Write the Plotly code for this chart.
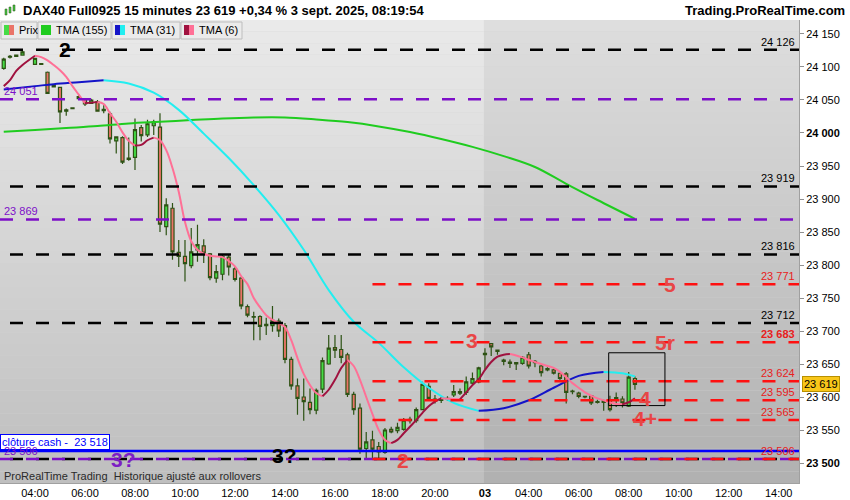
import plotly.graph_objects as go

# 15 minute bars numbered from 04:00 on 2 sept (bar 0); bar 72 = first bar of 3 sept, bar 96 = 08:15
bars = [-5, -4, -3, -2] + list(range(0, 97))

opens = [24098, 24115, 24116, 24118,
         24104, 24105, 24092, 24070, 24069, 24033, 24037, 24052, 24051, 24045,
         24047, 24034, 24029, 23988, 23993, 23960, 23963, 24008, 23997, 24011,
         24009, 23858, 23886, 23819, 23813, 23799, 23823, 23829, 23817, 23780,
         23786, 23812, 23794, 23780, 23737, 23721, 23722, 23708, 23708, 23715,
         23708, 23657, 23617, 23600, 23592, 23580, 23612, 23650, 23675, 23672,
         23664, 23604, 23583, 23522, 23535, 23525, 23516, 23551, 23549, 23551,
         23564, 23564, 23581, 23616, 23594, 23596, 23597, 23603, 23606, 23607,
         23621, 23623, 23664, 23681, 23671, 23656, 23651, 23652, 23651, 23664,
         23654, 23647, 23641, 23641, 23636, 23635, 23608, 23606, 23601, 23602,
         23593, 23594, 23596, 23597, 23597, 23586, 23628]
highs = [24114, 24118, 24119, 24125,
         24114, 24106, 24093, 24074, 24070, 24037, 24039, 24058, 24053, 24052,
         24050, 24042, 24032, 23995, 23995, 23993, 24022, 24012, 24020, 24020,
         24030, 23901, 23894, 23838, 23838, 23856, 23861, 23839, 23818, 23800,
         23815, 23815, 23797, 23782, 23740, 23729, 23724, 23720, 23738, 23719,
         23712, 23661, 23628, 23628, 23613, 23613, 23660, 23694, 23694, 23694,
         23667, 23608, 23590, 23547, 23549, 23532, 23553, 23555, 23561, 23568,
         23570, 23584, 23623, 23621, 23603, 23600, 23601, 23618, 23613, 23631,
         23637, 23646, 23674, 23682, 23672, 23658, 23657, 23653, 23662, 23668,
         23656, 23649, 23645, 23643, 23638, 23638, 23611, 23608, 23602, 23603,
         23596, 23596, 23602, 23607, 23601, 23638, 23631]
lows = [24096, 24113, 24115, 24117,
        24103, 24103, 24059, 24069, 24015, 24026, 24036, 24050, 24041, 24044,
        24032, 24030, 23984, 23969, 23953, 23958, 23944, 23987, 23994, 23997,
        23850, 23845, 23808, 23797, 23775, 23795, 23805, 23803, 23777, 23773,
        23777, 23784, 23775, 23733, 23721, 23686, 23686, 23694, 23699, 23691,
        23651, 23611, 23573, 23564, 23574, 23574, 23606, 23649, 23659, 23651,
        23600, 23573, 23514, 23506, 23506, 23506, 23514, 23545, 23545, 23549,
        23560, 23561, 23580, 23596, 23590, 23591, 23594, 23600, 23603, 23603,
        23618, 23621, 23642, 23662, 23664, 23648, 23644, 23641, 23649, 23643,
        23645, 23631, 23639, 23634, 23625, 23590, 23604, 23598, 23598, 23588,
        23590, 23579, 23578, 23585, 23584, 23585, 23611]
closes = [24112, 24116, 24118, 24123,
          24113, 24104, 24060, 24073, 24032, 24035, 24038, 24055, 24044, 24050,
          24033, 24036, 23991, 23994, 23956, 23962, 24005, 23996, 24014, 24017,
          23862, 23891, 23820, 23813, 23802, 23820, 23831, 23818, 23781, 23790,
          23813, 23797, 23778, 23738, 23724, 23722, 23707, 23710, 23716, 23700,
          23657, 23617, 23598, 23593, 23581, 23610, 23655, 23674, 23671, 23660,
          23604, 23581, 23521, 23532, 23521, 23517, 23550, 23547, 23554, 23565,
          23566, 23581, 23619, 23598, 23597, 23595, 23598, 23608, 23608, 23623,
          23628, 23644, 23666, 23676, 23669, 23654, 23653, 23650, 23660, 23647,
          23652, 23637, 23643, 23636, 23628, 23607, 23609, 23601, 23600, 23591,
          23592, 23592, 23581, 23599, 23591, 23630, 23619]

# TMA (6) on every bar
tma6 = [24071, 24080, 24094, 24103,
        24117, 24115, 24110, 24103, 24095, 24085, 24071, 24058, 24045, 24046,
        24047, 24044, 24030, 24017, 24001, 23988, 23981, 23982, 23989, 23993,
        23989, 23974, 23947, 23911, 23865, 23836, 23823, 23817, 23814, 23813,
        23812, 23806, 23798, 23783, 23771, 23750, 23736, 23724, 23717, 23712,
        23706, 23686, 23659, 23635, 23618, 23606, 23601, 23611, 23626, 23644,
        23656, 23647, 23626, 23600, 23574, 23550, 23535, 23530, 23535, 23545,
        23555, 23565, 23576, 23586, 23593, 23598, 23597.5, 23597, 23596.5, 23607,
        23618, 23627, 23641, 23653, 23661, 23664, 23665, 23663, 23660, 23656,
        23653, 23650, 23647, 23644, 23638, 23630, 23621, 23614, 23607, 23602,
        23598, 23595, 23592, 23589.5, 23589, 23592, 23598]

# TMA (31) and TMA (155), read every few bars
tma31_bars = [-5, 0, 3, 7, 11, 15, 19, 23, 27, 31, 35, 39, 43, 47, 51, 55, 59, 63, 67, 71, 75, 79, 83, 87, 91, 94, 96]
tma31 = [24066, 24071, 24074, 24077, 24080, 24075, 24061, 24035, 23999, 23962, 23921, 23876, 23823, 23762,
         23714, 23682, 23645, 23614, 23591, 23579, 23583, 23595, 23614, 23632, 23638, 23636, 23631]
tma155_bars = [-5, 0, 5, 10, 15, 20, 25, 30, 35, 40, 45, 50, 55, 60, 65, 70, 75, 80, 85, 90, 96]
tma155 = [24002, 24004.5, 24007.5, 24010.5, 24014.5, 24017, 24019.5, 24022, 24023.5, 24023.5, 24020.5,
          24016.5, 24010, 24001.5, 23991, 23979, 23965, 23948.5, 23923, 23898.5, 23870]

# horizontal levels
black_levels = [24126, 23919, 23816, 23712, 23506]
purple_levels = [24051, 23869, 23506]
red_levels = [23771, 23683, 23624, 23595, 23565, 23506]
red_start_bar = 54
cash_close = 23518
last_price = 23619
box_bars = [91.8, 100.8]
box_prices = [23587, 23667]

# time axis
tick_bars = [0, 8, 16, 24, 32, 40, 48, 56, 64, 72, 79, 87, 95, 103, 111, 119]
tick_text = ["04:00", "06:00", "08:00", "10:00", "12:00", "14:00", "16:00", "18:00", "20:00",
             "<b>03</b>", "04:00", "06:00", "08:00", "10:00", "12:00", "14:00"]
price_ticks = list(range(23500, 24151, 50))

# hand drawn marks on the chart: text, bar, price, colour
marks = [("2", 4.8, 24126, "black"), ("3?", 14.1, 23506, "#7d1fc4"), ("3?", 40, 23512, "black"),
         ("2", 58.9, 23504, "#e84646"), ("3", 69.9, 23686, "#e84646"), ("5", 101.6, 23771, "#e84646"),
         ("5r", 100.8, 23683, "#e84646"), ("4", 97.6, 23597, "#e84646"), ("4+", 97.6, 23568, "#e84646")]

FONT = "Liberation Sans, Arial, sans-serif"
W, H = 850, 500
L, R, T, B = 0, 51, 20, 17
PW, PH = W - L - R, H - T - B
x_range = [-5.6, 122.25]
day2_start = 71.84


def fmt(v):
    return f"{v:,}".replace(",", " ")


def px(x):
    return x / PW


def py(y):
    return 1 - (y - T) / PH


def split_by_slope(xs, ys):
    segs = []
    for i in range(len(xs) - 1):
        up = ys[i + 1] >= ys[i]
        if segs and segs[-1][0] == up:
            segs[-1][1].append(xs[i + 1])
            segs[-1][2].append(ys[i + 1])
        else:
            segs.append([up, [xs[i], xs[i + 1]], [ys[i], ys[i + 1]]])
    return segs


fig = go.Figure()

fig.add_trace(go.Candlestick(
    x=bars, open=opens, high=highs, low=lows, close=closes,
    increasing=dict(line=dict(color="#2d5214", width=1.2), fillcolor="#46dc46"),
    decreasing=dict(line=dict(color="#2d5214", width=1.2), fillcolor="#ea7468"),
    whiskerwidth=0, hoverinfo="skip"))

fig.add_trace(go.Scatter(x=tma155_bars, y=tma155, mode="lines", line=dict(color="#1fcc1f", width=2, shape="spline"),
                         hoverinfo="skip"))

for up, xs, ys in split_by_slope(tma31_bars, tma31):
    fig.add_trace(go.Scatter(x=xs, y=ys, mode="lines", hoverinfo="skip",
                             line=dict(color="#1414c8" if up else "#22eef0", width=2, shape="spline")))

for up, xs, ys in split_by_slope(bars, tma6):
    fig.add_trace(go.Scatter(x=xs, y=ys, mode="lines", hoverinfo="skip",
                             line=dict(color="#a0123f" if up else "#ff7096", width=2, shape="spline")))

shapes = []
# background gradient, darker for the 3 sept session
n = 40
for k in range(n):
    t = k / n
    y0, y1 = 1 - (k + 1) / n, 1 - k / n
    cl = int(234 - 44 * t)
    cr = int(222 - 46 * t)
    shapes.append(dict(type="rect", xref="x", yref="paper", x0=x_range[0], x1=day2_start, y0=y0, y1=y1,
                       fillcolor=f"rgb({cl},{cl},{cl})", line=dict(width=0), layer="below"))
    shapes.append(dict(type="rect", xref="x", yref="paper", x0=day2_start, x1=x_range[1] + 1, y0=y0, y1=y1,
                       fillcolor=f"rgb({cr},{cr},{cr})", line=dict(width=0), layer="below"))

for v in black_levels:
    shapes.append(dict(type="line", xref="paper", yref="y", x0=px(10), x1=1, y0=v, y1=v,
                       line=dict(color="black", width=2.5, dash="13px,13px")))
for v in purple_levels:
    shapes.append(dict(type="line", xref="paper", yref="y", x0=0, x1=1, y0=v, y1=v,
                       line=dict(color="#7d0fc8", width=2.5, dash="13px,13px")))
for v in red_levels:
    shapes.append(dict(type="line", xref="x", yref="y", x0=red_start_bar, x1=x_range[1] + 2, y0=v, y1=v,
                       line=dict(color="#ff1010", width=2.5, dash="13px,13px")))
shapes.append(dict(type="line", xref="paper", yref="y", x0=0, x1=1, y0=cash_close, y1=cash_close,
                   line=dict(color="#0000ff", width=2.5)))
shapes.append(dict(type="rect", xref="x", yref="y", x0=box_bars[0], x1=box_bars[1],
                   y0=box_prices[0], y1=box_prices[1], line=dict(color="black", width=1)))

# legend strip
legend = [(1, 37, "Prix", ["#46dc46", "#ea7468"]), (38, 111, "TMA (155)", ["#1fcc1f", "#1fcc1f"]),
          (112, 180, "TMA (31)", ["#1414c8", "#22eef0"]), (181, 242, "TMA (6)", ["#a0123f", "#ff7096"])]
annotations = []
for x0, x1, label, cols in legend:
    shapes.append(dict(type="rect", xref="paper", yref="paper", x0=px(x0), x1=px(x1), y0=py(39), y1=py(22),
                       fillcolor="#ebebeb", line=dict(color="#bdbdbd", width=1)))
    shapes.append(dict(type="rect", xref="paper", yref="paper", x0=px(x0 + 3), x1=px(x0 + 8), y0=py(35), y1=py(25),
                       fillcolor=cols[0], line=dict(width=0)))
    shapes.append(dict(type="rect", xref="paper", yref="paper", x0=px(x0 + 8), x1=px(x0 + 13), y0=py(35), y1=py(25),
                       fillcolor=cols[1], line=dict(width=0)))
    annotations.append(dict(text=label, xref="paper", yref="paper", x=px(x0 + 16), y=py(30.5), xanchor="left",
                            yanchor="middle", showarrow=False, font=dict(size=11, color="black")))

# title icon
for i, (a, b) in enumerate([(9, 15), (7, 13), (5, 11)]):
    shapes.append(dict(type="rect", xref="paper", yref="paper", x0=px(5 + 4 * i), x1=px(7 + 4 * i), y0=py(b), y1=py(a),
                       fillcolor="#46c846", line=dict(color="#2d5214", width=0.5)))

annotations += [
    dict(text="<b>DAX40 Full0925 15 minutes 23 619 +0,34 % 3 sept. 2025, 08:19:54</b>", xref="paper", yref="paper",
         x=px(21), y=py(10), xanchor="left", yanchor="middle", showarrow=False, font=dict(size=13, color="black")),
    dict(text="<b>Trading.ProRealTime.com</b>", xref="paper", yref="paper", x=px(847), y=py(10),
         xanchor="right", yanchor="middle", showarrow=False, font=dict(size=13, color="black")),
    dict(text="ProRealTime Trading  Historique ajusté aux rollovers", xref="paper", yref="paper", x=px(2), y=py(476),
         xanchor="left", yanchor="middle", showarrow=False, font=dict(size=11, color="#2a2a2a")),
    dict(text="clôture cash -  23 518", xref="paper", yref="y", x=0, y=cash_close, xanchor="left", yanchor="bottom",
         yshift=1, showarrow=False, bgcolor="white", bordercolor="#0000ff", borderwidth=1, borderpad=1,
         font=dict(size=11, color="#0000ff")),
    dict(text=fmt(last_price), xref="paper", yref="y", x=px(802), y=last_price, xanchor="left", yanchor="middle",
         showarrow=False, bgcolor="#f8c61a", bordercolor="#b89000", borderwidth=1, borderpad=1,
         font=dict(size=11, color="black")),
]
for v in black_levels[:-1]:
    annotations.append(dict(text=fmt(v), xref="paper", yref="y", x=px(797), y=v, xanchor="right", yanchor="bottom",
                            showarrow=False, font=dict(size=11, color="black")))
for v in red_levels:
    txt = f"<b>{fmt(v)}</b>" if v == 23683 else fmt(v)
    annotations.append(dict(text=txt, xref="paper", yref="y", x=px(797), y=v, xanchor="right", yanchor="bottom",
                            showarrow=False, font=dict(size=11, color="#e82020")))
for v in purple_levels:
    annotations.append(dict(text=fmt(v), xref="paper", yref="y", x=px(2), y=v, xanchor="left", yanchor="bottom",
                            showarrow=False, font=dict(size=11, color="#7d0fc8")))
for txt, b, p, col in marks:
    annotations.append(dict(text=f"<b>{txt}</b>", x=b, y=p, xref="x", yref="y", showarrow=False,
                            font=dict(size=21, color=col)))

fig.update_layout(
    width=W, height=H, margin=dict(l=L, r=R, t=T, b=B, pad=0),
    paper_bgcolor="white", plot_bgcolor="#d4d4d4", showlegend=False,
    font=dict(family=FONT, size=11, color="black"),
    shapes=shapes, annotations=annotations,
    xaxis=dict(range=x_range, rangeslider=dict(visible=False), showgrid=False, zeroline=False,
               tickmode="array", tickvals=tick_bars, ticktext=tick_text, ticks="",
               showline=True, linecolor="#a0a0a0", automargin=False,
               tickfont=dict(size=11)),
    yaxis=dict(range=[23469.7, 24171.2], side="right", showgrid=False, zeroline=False,
               tickmode="array", tickvals=price_ticks,
               ticktext=[f"<b>{fmt(v)}</b>" if v % 500 == 0 else fmt(v) for v in price_ticks],
               ticks="outside", ticklen=4, tickcolor="#909090", showline=True, linecolor="#a0a0a0",
               automargin=False, tickfont=dict(size=11)),
)

# the page body has a default 8px margin, drop it so the chart sits at the window corner
fig.write_html("out.html", config={"displayModeBar": False},
               post_script="document.body.style.margin='0';")
